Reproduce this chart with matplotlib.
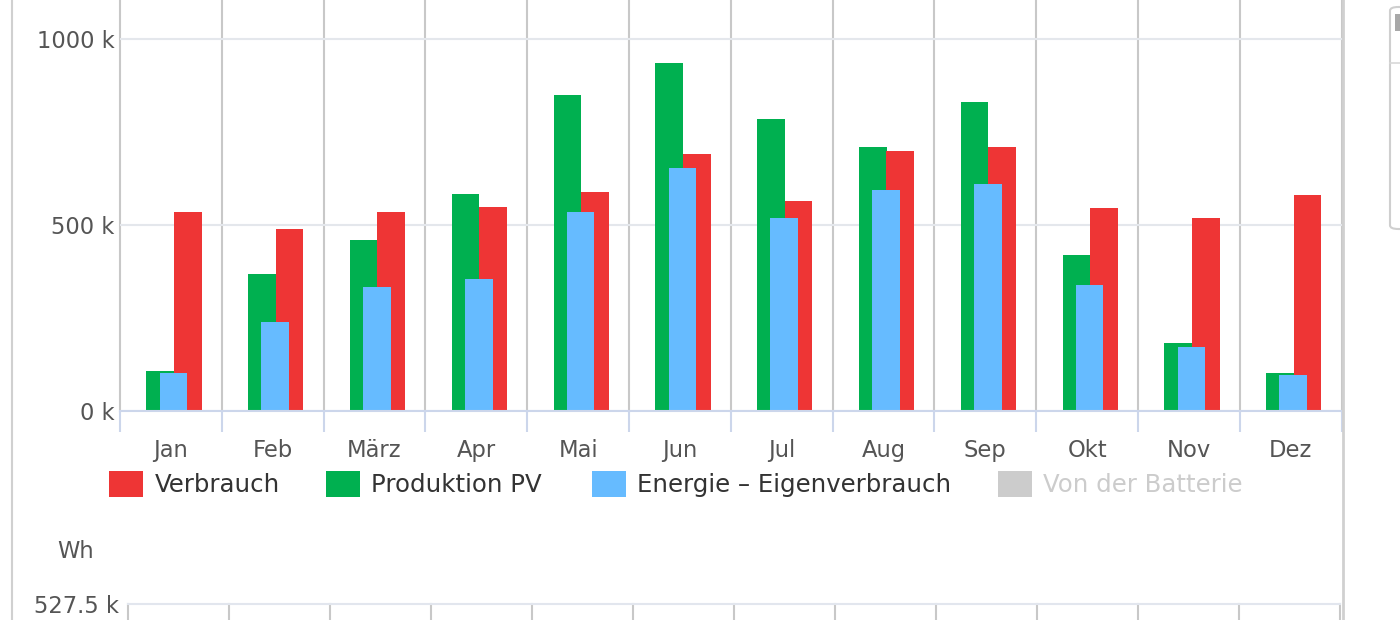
import matplotlib
matplotlib.use("Agg")
import matplotlib.pyplot as plt
from matplotlib.patches import Rectangle, FancyBboxPatch
from matplotlib.lines import Line2D
import numpy as np

months = ["Jan", "Feb", "März", "Apr", "Mai", "Jun", "Jul", "Aug", "Sep", "Okt", "Nov", "Dez"]
verbrauch = [536, 489, 536, 547, 588, 691, 565, 698, 708, 546, 518, 581]        # k Wh
produktion_pv = [108, 368, 460, 582, 849, 934, 783, 708, 830, 420, 182, 102]    # k Wh
eigenverbrauch = [103, 240, 334, 356, 536, 652, 519, 594, 611, 339, 172, 97]    # k Wh
legend_labels = ["Verbrauch", "Produktion PV", "Energie – Eigenverbrauch", "Von der Batterie"]
y_ticks = [0, 500, 1000]
y_tick_labels = ["0 k", "500 k", "1000 k"]
y2_tick = [527.5]
y2_tick_labels = ["527.5 k"]

RED = "#EE3535"
GREEN = "#00B050"
BLUE = "#66BBFF"
GRAYLEG = "#CCCCCC"
W, H = 1400, 620

plt.rcParams["font.family"] = ["DejaVu Sans"]
fig = plt.figure(figsize=(14, 6.2), dpi=100)
fig.patch.set_facecolor("white")

def fx(px):
    return px / W

def fy(py):
    return 1 - py / H

# ---- top chart ----
base_y = 411.3
ax = fig.add_axes([fx(120), fy(base_y), fx(1341.6) - fx(120), base_y / H])
x = np.arange(len(months))
bw = 0.272
ax.bar(x - 0.105, produktion_pv, width=bw, color=GREEN, zorder=3, linewidth=0)
ax.bar(x + 0.165, verbrauch, width=bw, color=RED, zorder=3, linewidth=0)
ax.bar(x + 0.025, eigenverbrauch, width=bw, color=BLUE, zorder=4, linewidth=0)

ax.set_xlim(-0.5, len(months) - 0.5)
ax.set_ylim(0, base_y / 0.3727)

ax.set_yticks(y_ticks)
ax.set_yticklabels(y_tick_labels)
ax.tick_params(axis="y", length=0, pad=4, labelsize=16.3, labelcolor="#555555")
ax.yaxis.grid(True, color="#E4E7EC", linewidth=1.5, zorder=0)

bounds = np.arange(-0.5, len(months), 1.0)
ax.set_xticks(bounds)
ax.set_xticklabels([""] * len(bounds))
ax.set_xticks(x, minor=True)
ax.set_xticklabels(months, minor=True)
ax.tick_params(axis="x", which="major", length=15, width=1.5, color="#CCD6EB")
ax.tick_params(axis="x", which="minor", length=0, pad=20, labelsize=16.3, labelcolor="#555555")
ax.xaxis.grid(True, which="major", color="#C8C8C8", linewidth=1.5, zorder=1)
for gl in ax.get_xgridlines():
    gl.set_clip_on(False)
ax.set_axisbelow(True)
for s in ["top", "right", "left"]:
    ax.spines[s].set_visible(False)
ax.spines["bottom"].set_color("#CCD6EB")
ax.spines["bottom"].set_linewidth(1.5)
ax.spines["bottom"].set_zorder(5)

# ---- legend ----
leg_colors = [RED, GREEN, BLUE, GRAYLEG]
leg_sq_x = [109, 326, 592, 998]
leg_txt_x = [155, 371, 637, 1043]
leg_txt_col = ["#333333", "#333333", "#333333", "#CCCCCC"]
for c, sx, tx, tc, lab in zip(leg_colors, leg_sq_x, leg_txt_x, leg_txt_col, legend_labels):
    fig.add_artist(Rectangle((fx(sx), fy(497)), 34 / W, 26 / H, transform=fig.transFigure,
                             facecolor=c, edgecolor="none"))
    fig.text(fx(tx), fy(485), lab, ha="left", va="center", fontsize=17.6, color=tc)

# ---- bottom chart (partially visible) ----
top2 = 604
ax2 = fig.add_axes([fx(127.7), fy(top2) - 0.4, fx(1339.7) - fx(127.7), 0.4])
ax2.set_xlim(-0.5, len(months) - 0.5)
ax2.set_ylim(0, 527.5)
ax2.set_yticks(y2_tick)
ax2.set_yticklabels(y2_tick_labels)
ax2.tick_params(axis="y", length=0, pad=6, labelsize=16.3, labelcolor="#555555")
ax2.set_xticks(bounds)
ax2.set_xticklabels([])
ax2.tick_params(axis="x", length=0)
ax2.xaxis.grid(True, color="#C8C8C8", linewidth=1.5)
for gl in ax2.get_xgridlines():
    gl.set_clip_on(False)
for s in ["bottom", "right", "left"]:
    ax2.spines[s].set_visible(False)
ax2.spines["top"].set_color("#E2E6EE")
ax2.spines["top"].set_linewidth(1.5)
fig.text(fx(76), fy(552), "Wh", ha="center", va="center", fontsize=16.3, color="#555555")

# ---- page furniture ----
fig.add_artist(Line2D([fx(12), fx(12)], [0, 1], transform=fig.transFigure, color="#D0D0D0", linewidth=1.5))
fig.add_artist(Line2D([fx(1343), fx(1343)], [0, 1], transform=fig.transFigure, color="#D0D0D0", linewidth=2))
fig.add_artist(FancyBboxPatch((fx(1390), fy(229)), 40 / W, 222 / H, transform=fig.transFigure,
                              boxstyle="round,pad=0,rounding_size=0.006", facecolor="white",
                              edgecolor="#CFCFCF", linewidth=1.5))
fig.add_artist(Line2D([fx(1390), 1], [fy(63), fy(63)], transform=fig.transFigure, color="#D8D8D8", linewidth=1.2))
fig.add_artist(Rectangle((fx(1395), fy(31)), 6 / W, 17 / H, transform=fig.transFigure,
                         facecolor="#A8A8A8", edgecolor="none"))

fig.savefig("out.png", dpi=100, facecolor="white")
